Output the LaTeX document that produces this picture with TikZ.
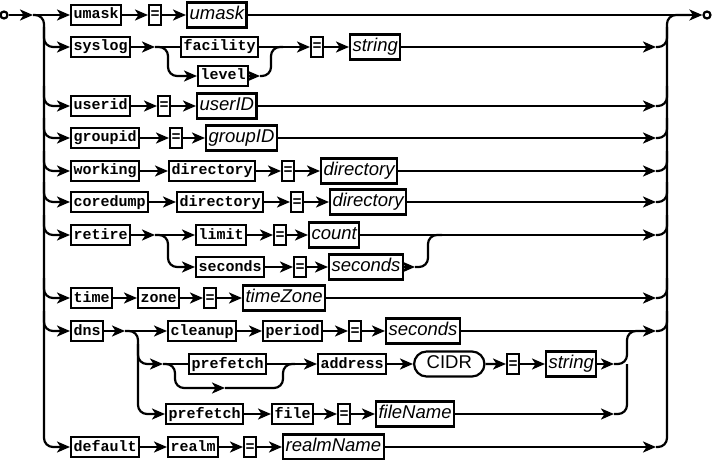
\documentclass[tikz,border=0pt]{standalone}
\usepackage{fontspec}
\usetikzlibrary{arrows.meta,shapes.misc}
\newfontfamily\kwf{Liberation Mono}
\newfontfamily\swf{Liberation Sans}
\begin{document}
\begin{tikzpicture}[x=1pt,y=-1pt,
 ln/.style={line width=2.2pt},
 rc/.style={rounded corners=9pt},
 ar/.style={ln,-{Stealth[length=13pt,width=11pt,inset=3.5pt]}},
 kw/.style={draw,line width=2.2pt,fill=white,font=\kwf\bfseries\fontsize{15}{15}\selectfont,inner xsep=2.5pt,inner ysep=0pt,text height=10.5pt,text depth=2.5pt,minimum height=20pt,anchor=west},
 eq/.style={kw,inner xsep=1.5pt},
 vr/.style={draw,line width=2.2pt,fill=white,font=\swf\itshape\fontsize{18.5}{18.5}\selectfont,inner xsep=2.5pt,inner ysep=0pt,text height=13.5pt,text depth=4pt,minimum height=25pt,anchor=west},
 tm/.style={vr,font=\swf\fontsize{18.5}{18.5}\selectfont,rounded rectangle,inner xsep=9pt},
 term/.style={circle,draw,line width=2.2pt,fill=white,inner sep=0pt,minimum size=7pt}]
\useasboundingbox (0,0) rectangle (713,460);

% terminals
\node[term] (st) at (4,15) {};
\node[term] (en) at (707,15) {};
\coordinate (a0) at (33,15);

% row umask
\node[kw] (umask) at (70,15) {umask};
\node[eq] (e1) at (148,15) {=};
\node[vr] (vumask) at (186,15) {umask};

% row syslog
\node[kw] (syslog) at (70,47) {syslog};
\coordinate (s1) at (155,47);
\node[kw] (facility) at (180,47) {facility};
\node[kw] (level) at (197,76) {level};
\coordinate (s2) at (283,47);
\coordinate (s3) at (260,76);
\node[eq] (e2) at (310,47) {=};
\node[vr] (vstring1) at (349,47) {string};

% userid
\node[kw] (userid) at (70,106) {userid};
\node[eq] (e3) at (157,106) {=};
\node[vr] (vuser) at (196,106) {userID};

% groupid
\node[kw] (groupid) at (70,138) {groupid};
\node[eq] (e4) at (169,138) {=};
\node[vr] (vgroup) at (205,138) {groupID};

% working
\node[kw] (working) at (70,171) {working};
\node[kw] (dir1) at (168,171) {directory};
\node[eq] (e5) at (281,171) {=};
\node[vr] (vdir1) at (320,171) {directory};

% coredump
\node[kw] (coredump) at (70,202) {coredump};
\node[kw] (dir2) at (176,202) {directory};
\node[eq] (e6) at (290,202) {=};
\node[vr] (vdir2) at (329,202) {directory};

% retire
\node[kw] (retire) at (70,235) {retire};
\coordinate (r1) at (155,235);
\node[kw] (limit) at (195,235) {limit};
\node[eq] (e7) at (273,235) {=};
\node[vr] (vcount) at (308,235) {count};
\node[kw] (seconds) at (195,267) {seconds};
\node[eq] (e8) at (293,267) {=};
\node[vr] (vsec1) at (328,267) {seconds};
\coordinate (r2) at (415,267);

% time zone
\node[kw] (time) at (70,298) {time};
\node[kw] (zone) at (137,298) {zone};
\node[eq] (e9) at (203,298) {=};
\node[vr] (vtz) at (242,298) {timeZone};

% dns
\node[kw] (dns) at (70,331) {dns};
\coordinate (d1) at (125,331);
\node[kw] (cleanup) at (167,331) {cleanup};
\node[kw] (period) at (262,331) {period};
\node[eq] (e10) at (348,331) {=};
\node[vr] (vsec2) at (385,331) {seconds};
\coordinate (d2) at (163,364);
\node[kw] (prefA) at (188,364) {prefetch};
\coordinate (d3) at (225,388);
\coordinate (d4) at (295,364);
\node[kw] (address) at (317,364) {address};
\node[tm] (cidr) at (413,364) {CIDR};
\node[eq] (e11) at (506,364) {=};
\node[vr] (vstring2) at (545,364) {string};
\coordinate (d5) at (614,364);
\node[kw] (prefB) at (165,414) {prefetch};
\node[kw] (file) at (271,414) {file};
\node[eq] (e12) at (337,414) {=};
\node[vr] (vfile) at (375,414) {fileName};
\coordinate (d6) at (614,414);

% default
\node[kw] (default) at (70,447) {default};
\node[kw] (realm) at (167,447) {realm};
\node[eq] (e13) at (243,447) {=};
\node[vr] (vrealm) at (282,447) {realmName};

% main line
\draw[ar] (st) -- (a0);
\draw[ar] (a0) -- (umask);
\draw[ar] (umask) -- (e1);
\draw[ar] (e1) -- (vumask);
\draw[ar] (vumask) -- (en);

% left rail
\draw[ar,rc] (a0) -- (44,15) -- (44,447) -- (default);
\foreach \n/\y in {syslog/47,userid/106,groupid/138,working/171,coredump/202,retire/235,time/298,dns/331}
  \draw[ar,rc] (44,\y-20) -- (44,\y) -- (\n);

% right rail
\draw[ln,rc] (656,447) -- (667,447) -- (667,15) -- (690,15);
\foreach \y in {47,106,138,171,202,235,298,331}
  \draw[ln,rc] (656,\y) -- (667,\y) -- (667,\y-20);

% syslog
\draw[ar] (syslog) -- (s1);
\draw[ln] (s1) -- (facility);
\draw[ar,rc] (s1) -- (168,47) -- (168,76) -- (level);
\draw[ln] (facility) -- (s2);
\draw[ar] (level) -- (s3);
\draw[ln,rc] (s3) -- (271,76) -- (271,47) -- (s2);
\draw[ar] (s2) -- (e2);
\draw[ar] (e2) -- (vstring1);
\draw[ar] (vstring1) -- (656,47);

% userid / groupid
\draw[ar] (userid) -- (e3);
\draw[ar] (e3) -- (vuser);
\draw[ar] (vuser) -- (656,106);
\draw[ar] (groupid) -- (e4);
\draw[ar] (e4) -- (vgroup);
\draw[ar] (vgroup) -- (656,138);

% working / coredump
\draw[ar] (working) -- (dir1);
\draw[ar] (dir1) -- (e5);
\draw[ar] (e5) -- (vdir1);
\draw[ar] (vdir1) -- (656,171);
\draw[ar] (coredump) -- (dir2);
\draw[ar] (dir2) -- (e6);
\draw[ar] (e6) -- (vdir2);
\draw[ar] (vdir2) -- (656,202);

% retire
\draw[ar] (retire) -- (r1);
\draw[ar] (r1) -- (limit);
\draw[ar,rc] (r1) -- (168,235) -- (168,267) -- (seconds);
\draw[ar] (limit) -- (e7);
\draw[ar] (e7) -- (vcount);
\draw[ar] (vcount) -- (656,235);
\draw[ar] (seconds) -- (e8);
\draw[ar] (e8) -- (vsec1);
\draw[ar] (vsec1) -- (r2);
\draw[ln,rc] (r2) -- (428,267) -- (428,235) -- (442,235);

% time
\draw[ar] (time) -- (zone);
\draw[ar] (zone) -- (e9);
\draw[ar] (e9) -- (vtz);
\draw[ar] (vtz) -- (656,298);

% dns
\draw[ar] (dns) -- (d1);
\draw[ar] (d1) -- (cleanup);
\draw[ar,rc] (d1) -- (138,331) -- (138,414) -- (prefB);
\draw[ar,rc] (138,344) -- (138,364) -- (d2);
\draw[ar] (cleanup) -- (period);
\draw[ar] (period) -- (e10);
\draw[ar] (e10) -- (vsec2);
\draw[ar] (vsec2) -- (656,331);
\draw[ln] (d2) -- (prefA);
\draw[ar,rc] (d2) -- (175,364) -- (175,388) -- (d3);
\draw[ln,rc] (d3) -- (283,388) -- (283,364) -- (d4);
\draw[ln] (prefA) -- (d4);
\draw[ar] (d4) -- (address);
\draw[ar] (address) -- (cidr);
\draw[ar] (cidr) -- (e11);
\draw[ar] (e11) -- (vstring2);
\draw[ar] (vstring2) -- (d5);
\draw[ln,rc] (d5) -- (627,364) -- (627,331) -- (645,331);
\draw[ar] (prefB) -- (file);
\draw[ar] (file) -- (e12);
\draw[ar] (e12) -- (vfile);
\draw[ar] (vfile) -- (d6);
\draw[ln,rc] (d6) -- (627,414) -- (627,364);

% default
\draw[ar] (default) -- (realm);
\draw[ar] (realm) -- (e13);
\draw[ar] (e13) -- (vrealm);
\draw[ar] (vrealm) -- (656,447);
\end{tikzpicture}
\end{document}
